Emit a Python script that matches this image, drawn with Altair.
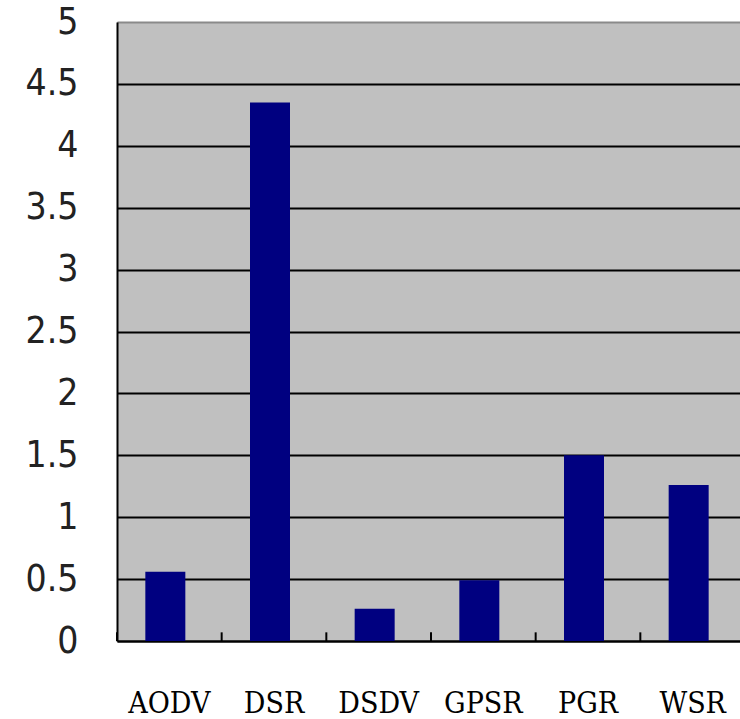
import altair as alt
import pandas as pd

# Routing protocols and their measured values
protocols = ["AODV", "DSR", "DSDV", "GPSR", "PGR", "WSR"]
values = [0.56, 4.35, 0.26, 0.49, 1.50, 1.26]
y_ticks = [0, 0.5, 1, 1.5, 2, 2.5, 3, 3.5, 4, 4.5, 5]

df = pd.DataFrame({"protocol": protocols, "value": values})

x_scale = alt.Scale(domain=protocols, range=[0, 628], paddingInner=0, paddingOuter=0)

bars = alt.Chart(df).mark_bar(size=40, color="#000080", xOffset=-4).encode(
    x=alt.X(
        "protocol:N",
        sort=protocols,
        scale=x_scale,
        axis=alt.Axis(
            title=None,
            labelAngle=0,
            labelFont="DejaVu Serif Condensed, DejaVu Serif, serif",
            labelFontSize=30,
            labelColor="black",
            labelBaseline="alphabetic",
            labelPadding=71,
            ticks=False,
            domainColor="black",
            domainWidth=2,
            grid=False,
        ),
    ),
    y=alt.Y(
        "value:Q",
        scale=alt.Scale(domain=[0, 5], nice=False),
        axis=alt.Axis(
            title=None,
            values=y_ticks,
            labelExpr="'' + datum.value",
            labelFont="Liberation Sans Narrow, DejaVu Sans Condensed, sans-serif",
            labelFontSize=37,
            labelColor="#222",
            labelPadding=39,
            ticks=False,
            domainColor="black",
            domainWidth=2,
            gridColor=alt.condition("datum.value == 5", alt.value("#8a8a8a"), alt.value("black")),
            gridWidth=2,
        ),
    ),
)

# Short category separators rising from the baseline
seps = alt.Chart(df).mark_rule(color="black", strokeWidth=2).encode(
    x=alt.X("protocol:N", sort=protocols, scale=x_scale, bandPosition=0),
    y=alt.datum(0),
    y2=alt.datum(0.07),
)

chart = (
    alt.layer(bars, seps)
    .properties(
        width=623,
        height=619,
        padding={"left": 117, "top": 22, "right": 0, "bottom": 78},
        autosize=alt.AutoSizeParams(type="none"),
        background="white",
    )
    .configure_view(fill="#c0c0c0", stroke=None)
)

chart.save("out.html", embed_options={"renderer": "svg", "actions": False})
